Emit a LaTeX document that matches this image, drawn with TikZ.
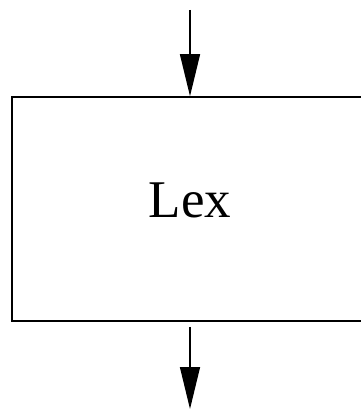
\documentclass[tikz,border=0pt]{standalone}
\usepackage{fontspec}
\setmainfont{Liberation Serif}
\usetikzlibrary{arrows.meta, positioning}
\tikzstyle{block} = [rectangle, draw, line width=1.6pt, minimum width=356pt, minimum height=224pt, font=\fontsize{53}{60}\selectfont, inner sep=0pt, text depth=18pt]
\tikzstyle{line} = [draw, line width=1.4pt, -{Triangle[length=42pt, width=20pt]}]

\begin{document}
\begin{tikzpicture}[x=1pt, y=-1pt]
            \useasboundingbox (0,0) rectangle (360,409);
            % Nodes
            \node [block] (lex) at (190,209) {Lex};
            \coordinate (src) at (190,10);
            \coordinate (dst) at (190,409);

            % Lines
            \path [line] (src) -- (lex.north);
            \path [line, shorten <=5pt] (lex.south) -- (dst);
        \end{tikzpicture}
\end{document}
